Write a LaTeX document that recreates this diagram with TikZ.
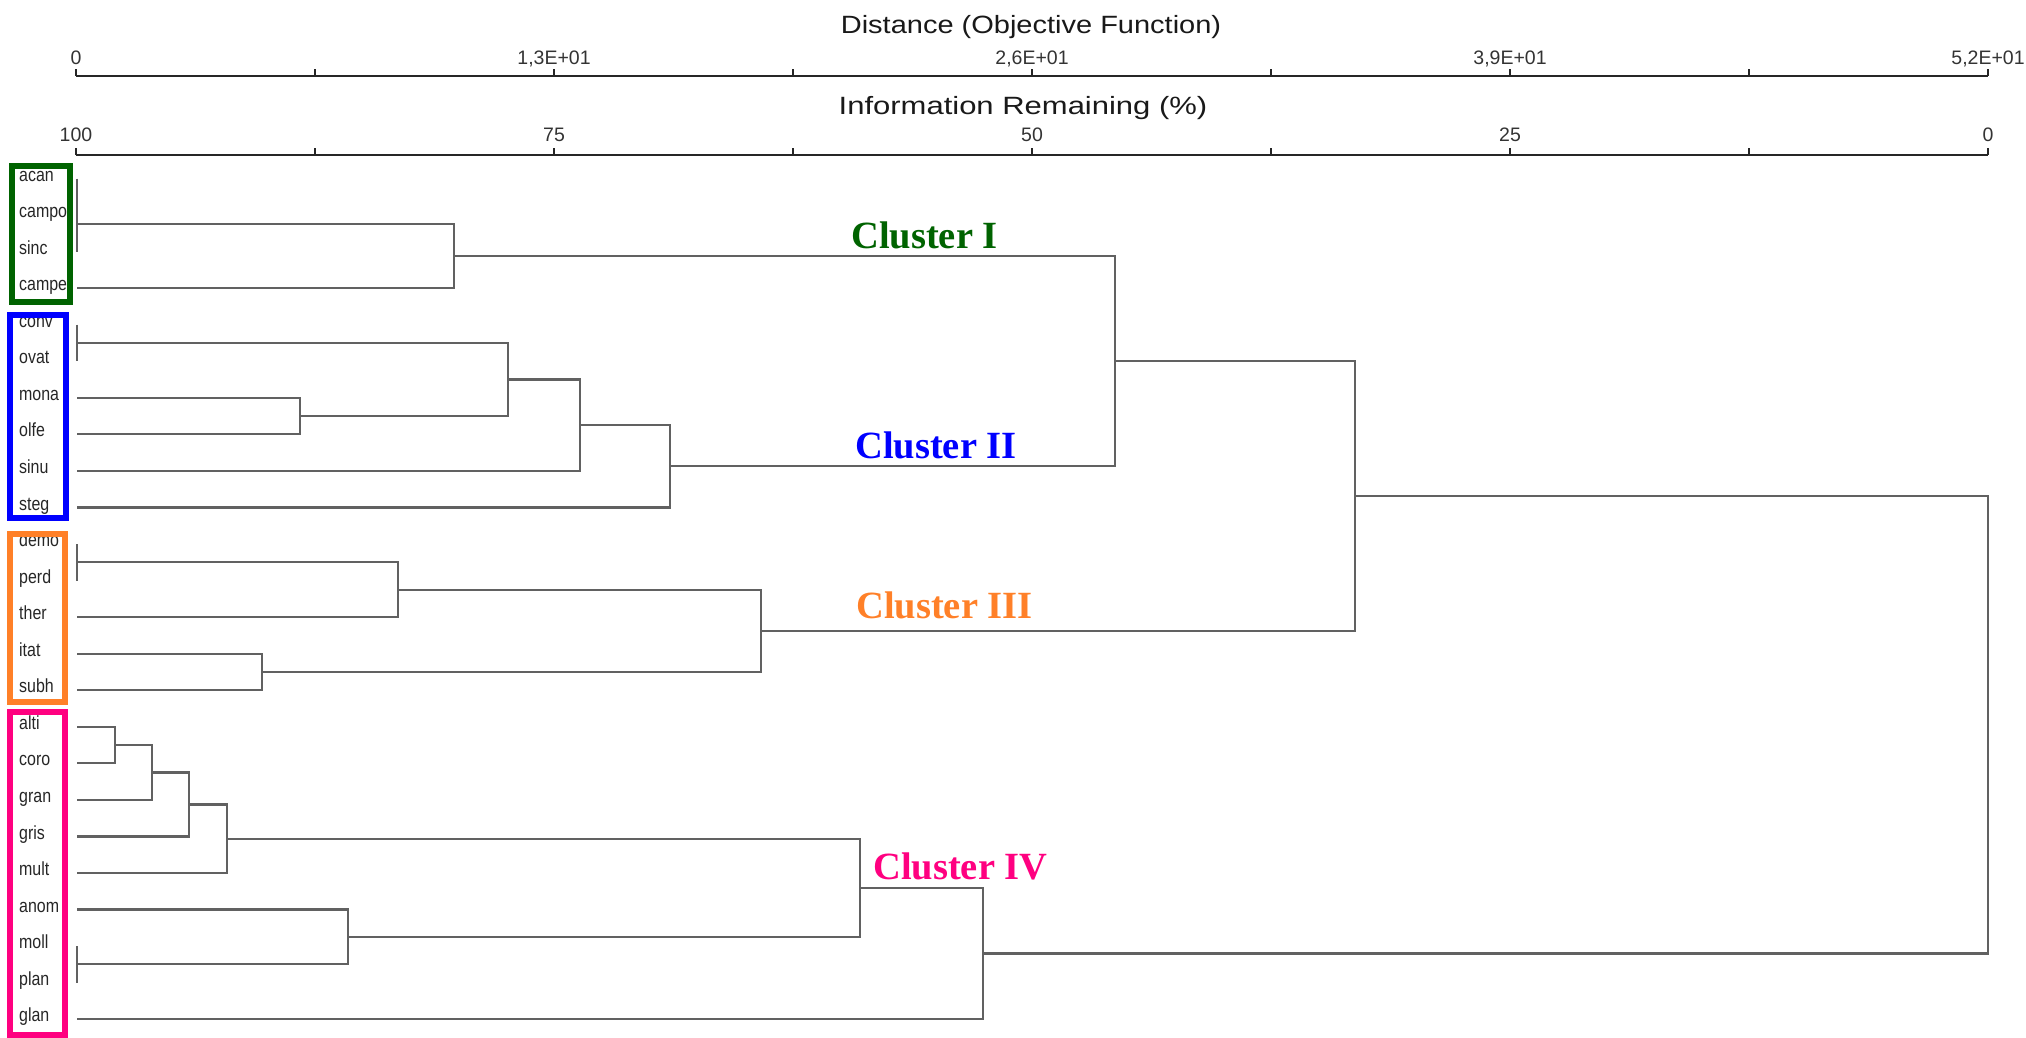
\documentclass[tikz,border=0pt]{standalone}
\usepackage{fontspec}
\setmainfont{Liberation Sans}
\newfontfamily\serifbold{Liberation Serif}
\usetikzlibrary{calc}

% union de dos ramas: nombre, distancia, hijo a, hijo b
\newcommand{\unir}[4]{%
    \path let \p1 = ($(#3)!.5!(#4)$) in coordinate (#1) at (#2pt,\y1);
    \draw[rama] (#3) -| (#1) |- (#4);
}

\begin{document}
\begin{tikzpicture}[x=1pt,y=-1pt,
        rama/.style={draw=black!62,line width=2.2pt},
        eje/.style={black!85,line width=2.8pt},
        hoja/.style={anchor=mid west,inner sep=0pt,black!85,font=\fontsize{19}{20}\selectfont},
        marca/.style={anchor=base,inner sep=0pt,black!80,font=\fontsize{19.5}{20}\selectfont},
        titulo/.style={anchor=base,inner sep=0pt,black!90,font=\fontsize{25}{26}\selectfont},
        grupo/.style={line width=6pt},
        rotulo/.style={anchor=base west,inner sep=0pt,font=\serifbold\bfseries\fontsize{38.5}{40}\selectfont}]
        %colores
        \colorlet{verde}{green!39!black}
        \definecolor{naranja}{RGB}{255,128,40}
        \definecolor{rosa}{RGB}{255,0,128}

        \useasboundingbox (0,0) rectangle (2026,1038);

        %ejes
        \node[titulo] (tdist) at (1031,34) {\scalebox{1.16}[1]{Distance (Objective Function)}};
        \node[titulo] (tinfo) at (1023,115) {\scalebox{1.24}[1]{Information Remaining (\%)}};
        \draw[eje] (76,76) -- (1988,76);
        \draw[eje] (76,155) -- (1988,155);
        \foreach \k in {0,...,8}{
            \draw[eje,line width=2pt] (76+239*\k,76) -- ++(0,-7);
            \draw[eje,line width=2pt] (76+239*\k,155) -- ++(0,-7);
        }
        \foreach \k/\dtext/\ptext in {0/0/100, 2/{1,3E+01}/75, 4/{2,6E+01}/50, 6/{3,9E+01}/25, 8/{5,2E+01}/0}{
            \node[marca] (d\k) at (76+239*\k,65) {\dtext};
            \node[marca] (p\k) at (76+239*\k,142) {\ptext};
        }

        %hojas
        \foreach \n [count=\i from 0] in {acan,campo,sinc,campe,conv,ovat,mona,olfe,sinu,steg,demo,perd,ther,itat,subh,alti,coro,gran,gris,mult,anom,moll,plan,glan}{
            \coordinate (\n) at (77,178.5+36.55*\i);
            \node[hoja] (t\n) at (19,178.5+36.55*\i) {\scalebox{.84}[1]{\n}};
        }

        %grupo I
        \unir{m1}{77}{acan}{campo}
        \unir{m2}{77}{m1}{sinc}
        \unir{m3}{454}{m2}{campe}
        %grupo II
        \unir{m4}{77}{conv}{ovat}
        \unir{m5}{300}{mona}{olfe}
        \unir{m6}{508}{m4}{m5}
        \unir{m7}{580}{m6}{sinu}
        \unir{m8}{670}{m7}{steg}
        \unir{m9}{1115}{m3}{m8}
        %grupo III
        \unir{m10}{77}{demo}{perd}
        \unir{m11}{398}{m10}{ther}
        \unir{m12}{262}{itat}{subh}
        \unir{m13}{761}{m11}{m12}
        \unir{m14}{1355}{m9}{m13}
        %grupo IV
        \unir{m15}{115}{alti}{coro}
        \unir{m16}{152}{m15}{gran}
        \unir{m17}{189}{m16}{gris}
        \unir{m18}{227}{m17}{mult}
        \unir{m19}{77}{moll}{plan}
        \unir{m20}{348}{anom}{m19}
        \unir{m21}{860}{m18}{m20}
        \unir{m22}{983}{m21}{glan}
        %raiz
        \unir{m23}{1988}{m14}{m22}

        %cajas y rotulos
        \draw[grupo,verde] (12,166.3) rectangle (70.3,302);
        \draw[grupo,blue] (10.3,315.3) rectangle (66,518);
        \draw[grupo,naranja] (10.3,533.7) rectangle (64.7,702);
        \draw[grupo,rosa] (10.3,712.3) rectangle (64.7,1034.7);
        \node[rotulo,verde] (c1) at (851,248) {Cluster I};
        \node[rotulo,blue] (c2) at (855,458) {Cluster II};
        \node[rotulo,naranja] (c3) at (856,618) {Cluster III};
        \node[rotulo,rosa] (c4) at (873,879) {Cluster IV};
    \end{tikzpicture}
\end{document}
